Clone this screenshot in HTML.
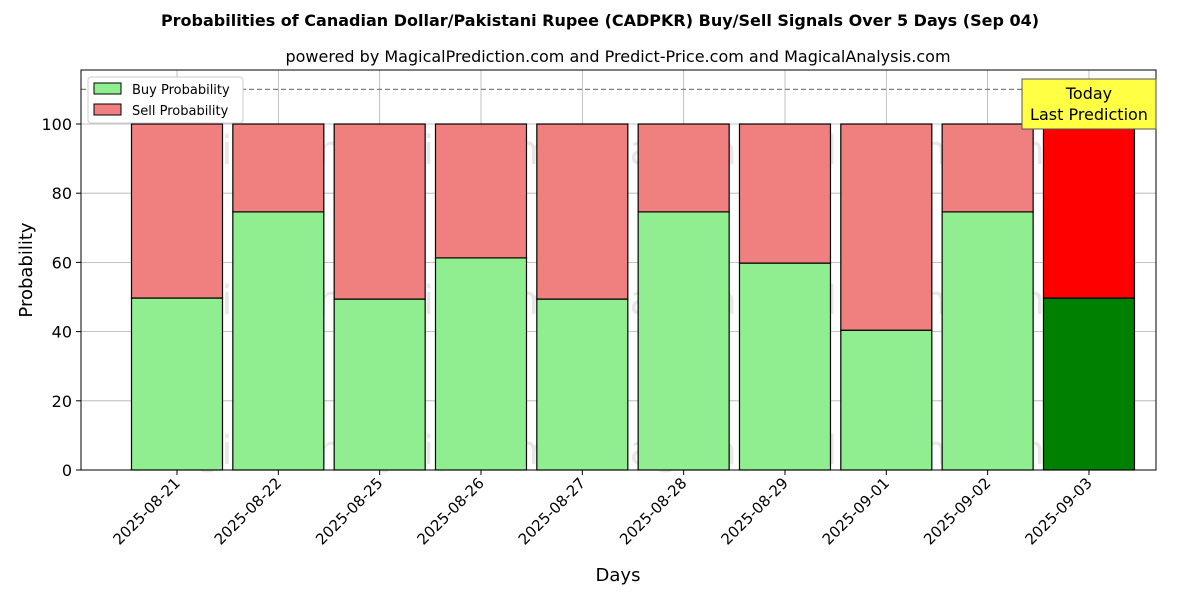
<!DOCTYPE html>
<html><head><meta charset="utf-8"><style>body{margin:0;background:#fff}svg{font-family:"DejaVu Sans","Liberation Sans",sans-serif}</style></head>
<body>
<svg id="c" width="1200" height="600" xmlns="http://www.w3.org/2000/svg"></svg>
<script>
const categories=["2025-08-21","2025-08-22","2025-08-25","2025-08-26","2025-08-27","2025-08-28","2025-08-29","2025-09-01","2025-09-02","2025-09-03"];
const buyValues=[49.7,74.6,49.4,61.3,49.4,74.6,59.8,40.4,74.6,49.7];
const sellValues=buyValues.map(v=>100-v);
const yTicks=[0,20,40,60,80,100];
const svg=document.getElementById('c');const NS="http://www.w3.org/2000/svg";
const L=81,R=1156,T=70,B=470;
const y=v=>B-v*3.46;
const x=i=>177+i*101.33;
const bw=91;
function el(t,a,txt){const e=document.createElementNS(NS,t);for(const k in a)e.setAttribute(k,a[k]);if(txt!==undefined)e.textContent=txt;svg.appendChild(e);return e;}
let e;
e=el('text',{x:600,y:26,'text-anchor':'middle','font-size':16,'font-weight':'bold'},'Probabilities of Canadian Dollar/Pakistani Rupee (CADPKR) Buy/Sell Signals Over 5 Days (Sep 04)');

e=el('text',{x:618,y:62,'text-anchor':'middle','font-size':16},'powered by MagicalPrediction.com and Predict-Price.com and MagicalAnalysis.com');

// grid
yTicks.forEach(t=>{e=el('line',{x1:L,x2:R,y1:y(t),y2:y(t),stroke:'#b0b0b0','stroke-width':0.8});
 e=el('line',{x1:L-5,x2:L,y1:y(t),y2:y(t),stroke:'#000'});
 e=el('text',{x:L-9,y:y(t)+6,'text-anchor':'end','font-size':16},t);});
categories.forEach((c,i)=>{e=el('line',{x1:x(i),x2:x(i),y1:T,y2:B,stroke:'#b0b0b0','stroke-width':0.8});});
// watermarks
[[345,150,'MagicalAnalysis.com'],[820,150,'MagicalPrediction.com'],[345,300,'MagicalAnalysis.com'],[820,300,'MagicalPrediction.com'],[345,450,'MagicalAnalysis.com'],[820,450,'MagicalPrediction.com']].forEach(w=>{e=el('text',{x:w[0],y:w[1]+14,'text-anchor':'middle','font-size':40,fill:'rgba(120,120,120,0.18)'},w[2]);});
// bars
categories.forEach((c,i)=>{const last=i===categories.length-1;
 e=el('rect',{x:x(i)-bw/2,y:y(buyValues[i]),width:bw,height:y(0)-y(buyValues[i]),fill:last?'#008000':'#90ee90',stroke:'#000','stroke-width':1.2});
 e=el('rect',{x:x(i)-bw/2,y:y(buyValues[i]+sellValues[i]),width:bw,height:y(buyValues[i])-y(buyValues[i]+sellValues[i]),fill:last?'#ff0000':'#f08080',stroke:'#000','stroke-width':1.2});
 e=el('line',{x1:x(i),x2:x(i),y1:B,y2:B+5,stroke:'#000'});
 e=el('text',{x:x(i)+4,y:B+14,'text-anchor':'end','font-size':15,transform:`rotate(-45 ${x(i)+4} ${B+14})`},c);});
e=el('line',{x1:L,x2:R,y1:y(110),y2:y(110),stroke:'#808080','stroke-width':1.2,'stroke-dasharray':'5,3'});
e=el('rect',{x:L,y:T,width:R-L,height:B-T,fill:'none',stroke:'#000','stroke-width':1});
// today box
e=el('rect',{x:1022,y:79,width:134,height:50,fill:'#ffff44',stroke:'#555','stroke-width':1});
e=el('text',{x:1089,y:99,'text-anchor':'middle','font-size':16},'Today');
e=el('text',{x:1089,y:120,'text-anchor':'middle','font-size':16},'Last Prediction');
// legend
e=el('rect',{x:88,y:77,width:155,height:46,fill:'#fff',stroke:'#ccc',rx:3});
e=el('rect',{x:94,y:83,width:27,height:11,fill:'#90ee90',stroke:'#000'});
e=el('text',{x:132,y:94,'font-size':13},'Buy Probability');
e=el('rect',{x:94,y:104,width:27,height:11,fill:'#f08080',stroke:'#000'});
e=el('text',{x:132,y:115,'font-size':13},'Sell Probability');
e=el('text',{x:618,y:581,'text-anchor':'middle','font-size':18},'Days');
e=el('text',{x:32,y:270,'text-anchor':'middle','font-size':18,transform:'rotate(-90 32 270)'},'Probability');
</script>
</body></html>
